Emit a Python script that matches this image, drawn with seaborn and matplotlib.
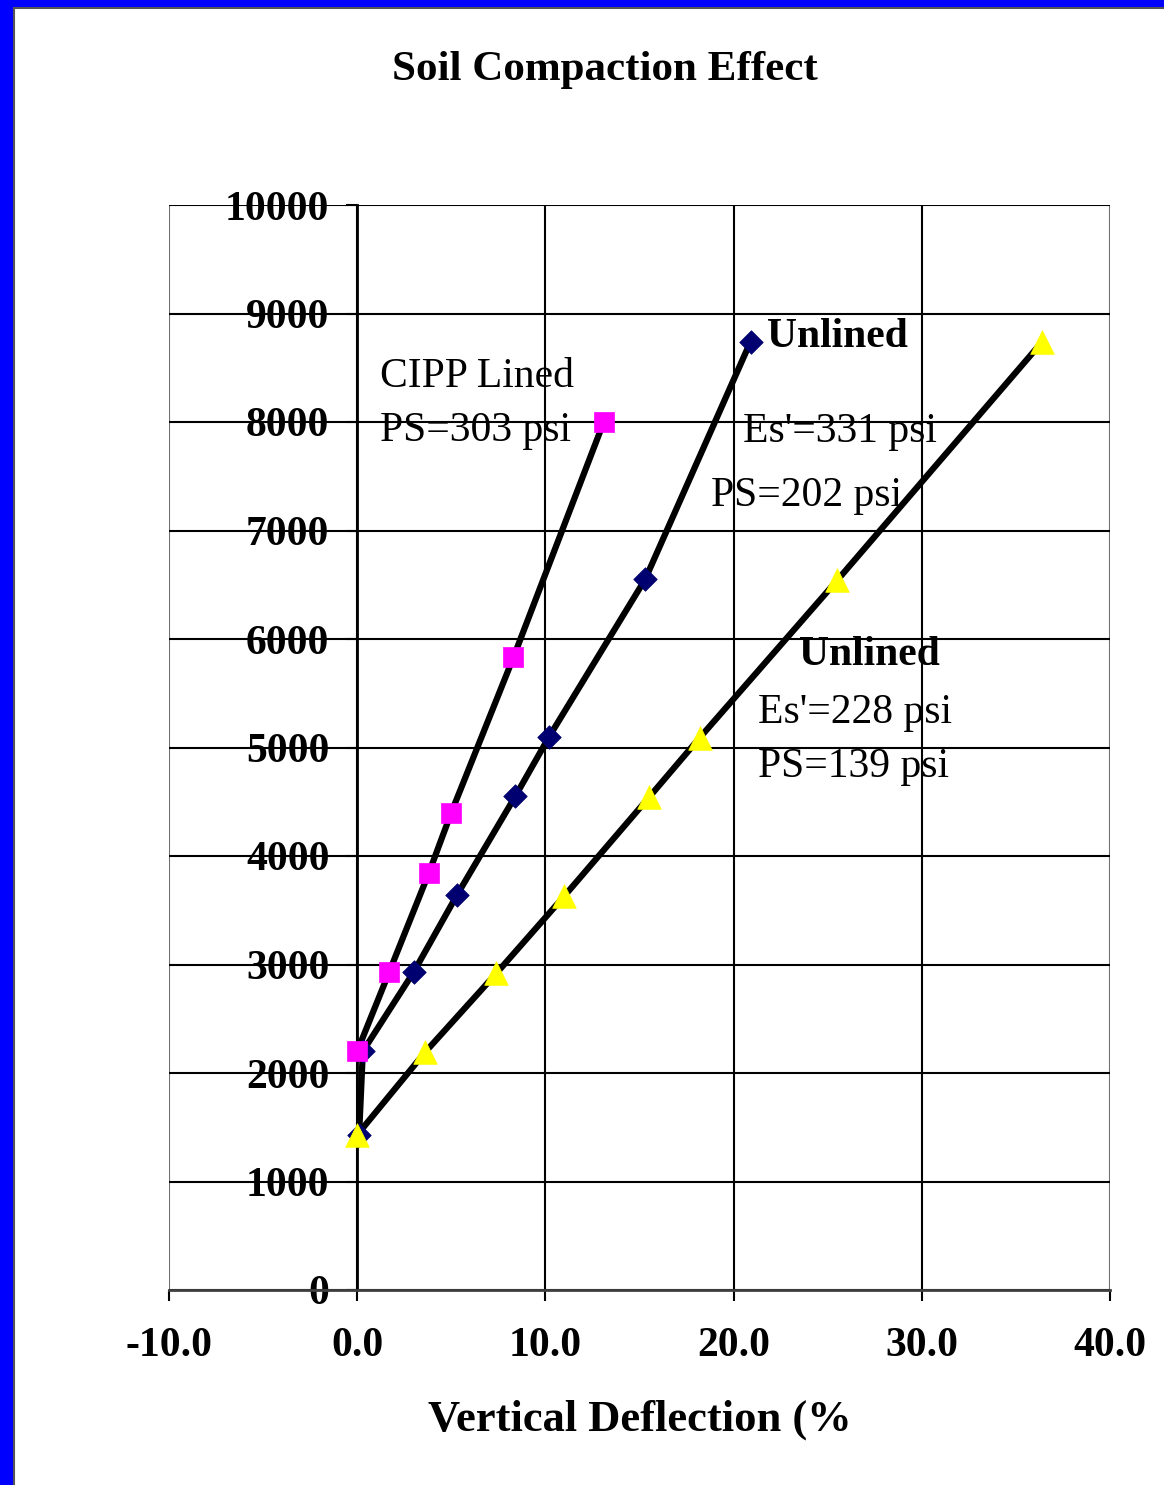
import matplotlib
matplotlib.use("Agg")
import matplotlib.pyplot as plt
import matplotlib.patches as mpatches
import matplotlib.lines as mlines
import numpy as np
import pandas as pd
import seaborn as sns

# Load vs. vertical deflection for three pipe cases
cipp_x = [0.0, 1.7, 3.8, 5.0, 8.3, 13.1]
cipp_y = [2200, 2930, 3840, 4400, 5830, 8000]

unl331_x = [0.1, 0.3, 3.0, 5.3, 8.4, 10.2, 15.3, 20.9]
unl331_y = [1430, 2200, 2930, 3640, 4550, 5100, 6550, 8740]

unl228_x = [0.0, 3.6, 7.4, 11.0, 15.5, 18.2, 25.5, 36.4]
unl228_y = [1430, 2190, 2920, 3630, 4540, 5090, 6540, 8740]

x_ticks = [-10, 0, 10, 20, 30, 40]
y_ticks = list(range(0, 10001, 1000))

title_text = "Soil Compaction Effect"
xlabel_text = "Vertical Deflection (%"

sns.set_style("white")
plt.rcParams["font.family"] = ["Liberation Serif", "DejaVu Serif"]
plt.rcParams["text.color"] = "black"
plt.rcParams["xtick.color"] = "black"
plt.rcParams["ytick.color"] = "black"

fig = plt.figure(figsize=(11.64, 14.85), dpi=100)
fig.patch.set_facecolor("#0000FF")
W, H = 1164, 1485
# white panel inside the blue frame, with a thin dark rule on its left/top
fig.add_artist(mpatches.Rectangle((13 / W, 0), 1 - 13 / W, 1 - 7 / H,
                                  transform=fig.transFigure, facecolor="white",
                                  edgecolor="none", zorder=0))
fig.add_artist(mlines.Line2D([14 / W, 14 / W], [0, 1 - 8 / H],
                             transform=fig.transFigure, color="#555555", lw=1.5))
fig.add_artist(mlines.Line2D([14 / W, 1], [1 - 8 / H, 1 - 8 / H],
                             transform=fig.transFigure, color="#555555", lw=1.5))

ax = fig.add_axes([169 / W, 195 / H, 941 / W, 1085 / H])
ax.set_facecolor("none")

series = [
    (unl331_x, unl331_y, "D", "#000070", 12, 2),
    (cipp_x, cipp_y, "s", "#FF00FF", 15, 3),
    (unl228_x, unl228_y, "^", "#FFFF00", 17, 3),
]
for xs, ys, mk, col, ms, z in series:
    df = pd.DataFrame({"x": xs, "y": ys})
    sns.lineplot(data=df, x="x", y="y", sort=False, estimator=None,
                 color="black", linewidth=4.5, ax=ax, zorder=z)
    sns.scatterplot(data=df, x="x", y="y", marker=mk, color=col, s=ms ** 2,
                    edgecolor=col, linewidth=0.5, ax=ax, zorder=z + 3)

ax.set_xlim(-10, 40)
ax.set_ylim(0, 10000)
ax.set_xticks(x_ticks)
ax.set_yticks(y_ticks)
ax.set_xticklabels([f"{v:.1f}" for v in x_ticks])
ax.set_yticklabels([str(v) for v in y_ticks])
ax.set_xlabel("")
ax.set_ylabel("")

ax.grid(True, color="black", linewidth=1.5, zorder=0)
ax.set_axisbelow(True)
for gl in (ax.xaxis.get_gridlines()[0], ax.yaxis.get_gridlines()[-1],
           ax.xaxis.get_gridlines()[-1]):
    gl.set_color("#707070")

for side in ("top", "right"):
    ax.spines[side].set_visible(False)
ax.spines["left"].set_position(("data", 0))
ax.spines["left"].set_color("black")
ax.spines["left"].set_linewidth(2)
ax.spines["bottom"].set_color("#404040")
ax.spines["bottom"].set_linewidth(2)

ax.tick_params(axis="both", direction="out", colors="black", width=1.5,
               labelsize=30, bottom=True, left=True)
ax.tick_params(axis="y", length=8, pad=12)
ax.tick_params(axis="x", length=8, pad=19)
for lab in ax.get_xticklabels() + ax.get_yticklabels():
    lab.set_fontweight("bold")
    lab.set_color("black")

# Series annotations
notes = [
    (1.2, 8420, "CIPP Lined", "normal"),
    (1.2, 7920, "PS=303 psi", "normal"),
    (21.8, 8780, "Unlined", "bold"),
    (20.5, 7910, "Es'=331 psi", "normal"),
    (18.8, 7320, "PS=202 psi", "normal"),
    (23.5, 5850, "Unlined", "bold"),
    (21.3, 5320, "Es'=228 psi", "normal"),
    (21.3, 4820, "PS=139 psi", "normal"),
]
for x, y, t, w in notes:
    ax.text(x, y, t, fontsize=30, fontweight=w, ha="left", va="center",
            color="black", zorder=1)

fig.text(605 / W, 1 - 70 / H, title_text, fontsize=31, fontweight="bold",
         ha="center", va="center", color="black")
fig.text(640 / W, 1 - 1420 / H, xlabel_text, fontsize=32, fontweight="bold",
         ha="center", va="center", color="black")

fig.savefig("out.png", dpi=100, facecolor=fig.get_facecolor())
